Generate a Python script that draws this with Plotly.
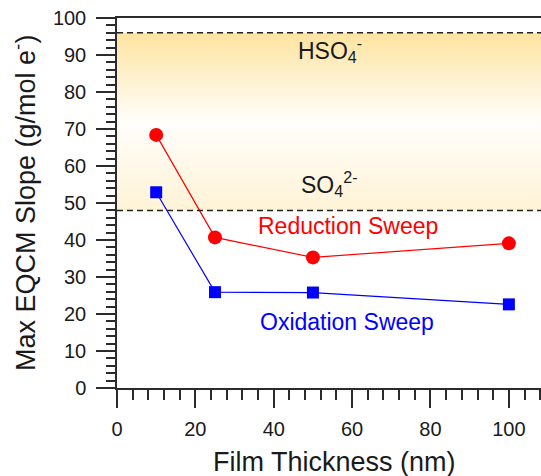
import plotly.graph_objects as go

# Film thickness (nm) and maximum EQCM slope (g/mol e-) per sweep
thickness = [10, 25, 50, 100]
reduction = [68.4, 40.7, 35.3, 39.1]
oxidation = [52.9, 25.9, 25.8, 22.6]

# Reference mass-per-electron levels for the two anions
level_hso4 = 96
level_so4 = 48

x_max = 108.2
y_max = 100

axis_color = "#2b2b2b"
text_color = "#1a1a1a"
font_family = "Liberation Sans, Arial, sans-serif"

fig = go.Figure()

# Shaded region between the two anion levels, vertical gradient
fig.add_trace(go.Scatter(
    x=[0, x_max, x_max, 0, 0],
    y=[level_so4, level_so4, level_hso4, level_hso4, level_so4],
    mode="lines", line=dict(width=0), fill="toself",
    fillgradient=dict(
        type="vertical",
        colorscale=[[0, "#fff3d6"], [0.5, "#fffefc"], [1, "#ffe4a0"]],
    ),
    hoverinfo="skip", showlegend=False,
))

# Dashed level lines
for lvl in (level_hso4, level_so4):
    fig.add_shape(type="line", xref="paper", x0=0, x1=1, yref="y", y0=lvl, y1=lvl,
                  line=dict(color="#222222", width=1.5, dash="6px,4px"))

fig.add_trace(go.Scatter(
    x=thickness, y=reduction, mode="lines+markers",
    line=dict(color="#ff0000", width=1.2),
    marker=dict(symbol="circle", size=14, color="#ff0000"),
    name="Reduction Sweep", showlegend=False,
))
fig.add_trace(go.Scatter(
    x=thickness, y=oxidation, mode="lines+markers",
    line=dict(color="#0000ff", width=1.2),
    marker=dict(symbol="square", size=12, color="#0000ff"),
    name="Oxidation Sweep", showlegend=False,
))

label_font = dict(family=font_family, size=23)
fig.add_annotation(x=54.3, y=91.4, text="HSO<sub>4</sub><sup>-</sup>", showarrow=False,
                   font=dict(label_font, color=text_color))
fig.add_annotation(x=54.3, y=55.2, text="SO<sub>4</sub><sup>2-</sup>", showarrow=False,
                   font=dict(label_font, color=text_color))
fig.add_annotation(x=59.0, y=43.8, text="Reduction Sweep", showarrow=False,
                   font=dict(label_font, color="#ff0000"))
fig.add_annotation(x=58.8, y=17.9, text="Oxidation Sweep", showarrow=False,
                   font=dict(label_font, color="#0000ff"))

# Axis titles placed as annotations for exact positioning
title_font = dict(family=font_family, size=27, color=text_color)
fig.add_annotation(text="Film Thickness (nm)", xref="x", x=55.5, yref="paper", y=0,
                   yshift=-74, yanchor="middle", showarrow=False, font=title_font)
fig.add_annotation(text="Max EQCM Slope (g/mol e<sup>-</sup>)", textangle=-90,
                   xref="paper", x=0, xshift=-93, xanchor="center",
                   yref="paper", y=0.5, yanchor="middle", showarrow=False, font=title_font)

fig.update_xaxes(
    range=[0, x_max], tickmode="linear", tick0=0, dtick=20,
    ticks="outside", ticklen=18, tickwidth=1.5, tickcolor=axis_color,
    minor=dict(dtick=4, ticks="outside", ticklen=10, tickwidth=1.5, tickcolor=axis_color),
    showline=True, linecolor=axis_color, linewidth=1.5, mirror=True,
    showgrid=False, zeroline=False,
    tickfont=dict(family=font_family, size=20, color=text_color),
    ticklabelstandoff=4,
)
fig.update_yaxes(
    range=[0, y_max], tickmode="linear", tick0=0, dtick=10,
    ticks="outside", ticklen=19, tickwidth=1.5, tickcolor=axis_color,
    minor=dict(dtick=2, ticks="outside", ticklen=9, tickwidth=1.5, tickcolor=axis_color),
    showline=True, linecolor=axis_color, linewidth=1.5,
    showgrid=False, zeroline=False,
    tickfont=dict(family=font_family, size=20, color=text_color),
    ticklabelstandoff=6,
)

fig.update_layout(
    width=541, height=476,
    margin=dict(l=117, r=0, t=18, b=88),
    plot_bgcolor="white", paper_bgcolor="white",
    showlegend=False,
)

fig.write_html("out.html")
